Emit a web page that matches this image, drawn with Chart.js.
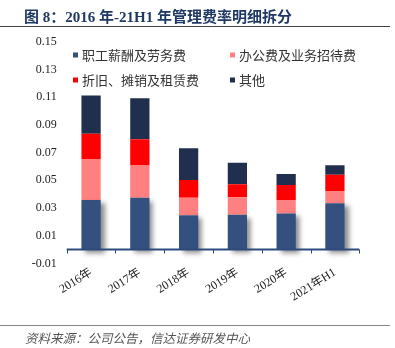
<!DOCTYPE html>
<html>
<head>
<meta charset="utf-8">
<script src="https://cdn.jsdelivr.net/npm/chart.js@4"></script>
<style>
  body { margin: 0; width: 395px; height: 348px; overflow: hidden; background: #fff; position: relative; }
  #wrap { position: absolute; left: 0; top: 0; width: 395px; height: 348px; }
  #title { position: absolute; left: 24px; top: 5px; font: bold 15px "Liberation Serif", "Noto Sans CJK SC", serif; color: #1F3864; white-space: nowrap; }
  #tline { position: absolute; left: 0; top: 26px; width: 390px; height: 1px; background: #444; }
  #fline { position: absolute; left: 0; top: 325px; width: 390px; height: 1px; background: #888; }
  #foot { position: absolute; left: 25px; top: 328px; font: italic 12.5px "Noto Sans CJK SC", sans-serif; color: #555; white-space: nowrap; }
</style>
</head>
<body>
<div id="wrap"><canvas id="bar"></canvas></div>
<div id="title">图 8：2016 年-21H1 年管理费率明细拆分</div>
<div id="tline"></div>
<div id="fline"></div>
<div id="foot">资料来源：公司公告，信达证券研发中心</div>
<script>
const categories = ['2016年', '2017年', '2018年', '2019年', '2020年', '2021年H1'];
const salary = [0.0357, 0.0374, 0.0247, 0.0251, 0.0261, 0.0334];
const office = [0.0296, 0.0236, 0.0127, 0.0126, 0.0096, 0.0088];
const depreciation = [0.0183, 0.0186, 0.0128, 0.0094, 0.0109, 0.0118];
const other = [0.0275, 0.0296, 0.0229, 0.0156, 0.0079, 0.0068];
const yTicks = [-0.01, 0.01, 0.03, 0.05, 0.07, 0.09, 0.11, 0.13, 0.15];

const serif = '"Liberation Serif", "Noto Sans CJK SC", serif';

// shadow under the bottom segment of each bar
const shadowPlugin = {
    id: 'shadow',
    beforeDatasetDraw(chart, args) {
        if (args.index !== 0) return;
        const c = chart.ctx;
        c.save();
        c.shadowColor = 'rgba(0,0,0,0.45)';
        c.shadowBlur = 5;
        c.shadowOffsetX = 4;
        c.shadowOffsetY = 3;
    },
    afterDatasetDraw(chart, args) {
        if (args.index !== 0) return;
        chart.ctx.restore();
    }
};

// zero line with category tick marks
const zeroAxis = {
    id: 'zeroAxis',
    afterDatasetsDraw(chart) {
        const c = chart.ctx;
        const y0 = chart.scales.y.getPixelForValue(0);
        const area = chart.chartArea;
        c.save();
        c.strokeStyle = '#2E4A7D';
        c.lineWidth = 2;
        c.beginPath();
        c.moveTo(area.left, y0);
        c.lineTo(area.right, y0);
        c.stroke();
        c.lineWidth = 1;
        c.beginPath();
        for (let i = 0; i <= categories.length; i++) {
            const px = Math.round(area.left + (area.right - area.left) * i / categories.length) + 0.5;
            c.moveTo(px, y0);
            c.lineTo(px, y0 + 4);
        }
        c.stroke();
        c.restore();
    }
};

// 2x2 legend inside the plot
const gridLegend = {
    id: 'gridLegend',
    afterDraw(chart) {
        const c = chart.ctx;
        const cols = [73, 230];
        const rows = [55, 80];
        c.save();
        c.font = '13px "Noto Sans CJK SC", sans-serif';
        c.textBaseline = 'middle';
        chart.data.datasets.forEach((ds, i) => {
            const x = cols[i % 2];
            const y = rows[Math.floor(i / 2)];
            c.fillStyle = ds.backgroundColor;
            c.fillRect(x, y - 2.5, 5, 5);
            c.fillStyle = '#333';
            c.fillText(ds.label, x + 9, y);
        });
        c.restore();
    }
};

new Chart(document.getElementById('bar'), {
    type: 'bar',
    data: {
        labels: categories,
        datasets: [
            { label: '职工薪酬及劳务费', data: salary, backgroundColor: '#34507E' },
            { label: '办公费及业务招待费', data: office, backgroundColor: '#FF8080' },
            { label: '折旧、摊销及租赁费', data: depreciation, backgroundColor: '#FF0000' },
            { label: '其他', data: other, backgroundColor: '#1F2F4D' }
        ]
    },
    options: {
        responsive: true,
        maintainAspectRatio: false,
        animation: false,
        barPercentage: 0.395,
        categoryPercentage: 1,
        layout: { padding: { left: 0, right: 35.7, top: 41.7, bottom: 0 } },
        plugins: { legend: { display: false }, tooltip: { enabled: false } },
        scales: {
            x: {
                stacked: true,
                grid: { display: false, drawTicks: false },
                border: { display: false },
                ticks: { autoSkip: false, minRotation: 32, maxRotation: 32, padding: 2, color: '#222', font: { family: serif, size: 12 } },
                afterFit(scale) { scale.height = 84.6; }
            },
            y: {
                stacked: true,
                min: -0.01,
                max: 0.15,
                grid: { display: false, drawTicks: false },
                border: { display: false },
                afterBuildTicks(scale) { scale.ticks = yTicks.map(v => ({ value: v })); },
                ticks: {
                    padding: 10,
                    color: '#222',
                    font: { family: serif, size: 12 },
                    callback: v => v.toFixed(2)
                },
                afterFit(scale) { scale.width = 66.7; }
            }
        }
    },
    plugins: [shadowPlugin, zeroAxis, gridLegend]
});
</script>
</body>
</html>
